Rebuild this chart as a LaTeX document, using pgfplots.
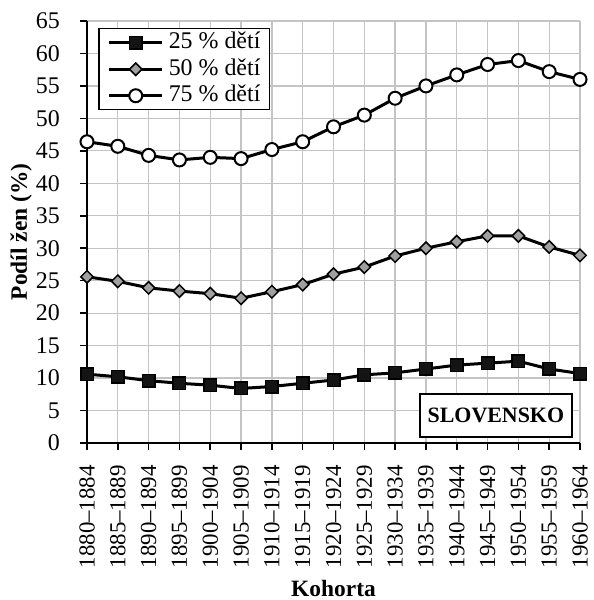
\documentclass[border=0pt]{standalone}
\usepackage{fontspec}
\setmainfont{Liberation Serif}
\usepackage{pgfplots}
\pgfplotsset{compat=1.18}
\definecolor{gridgray}{RGB}{196,196,196}
\definecolor{markgray}{RGB}{160,160,160}
\definecolor{markblack}{RGB}{20,20,20}

\begin{document}
\begin{tikzpicture}
\begin{axis}[
    name=ax,
    scale only axis,
    width=493bp, height=422bp,
    xmin=0, xmax=16, ymin=0, ymax=65,
    axis x line=bottom, axis y line=left,
    axis line style={-, black, line width=1.6bp},
    xtick={0,...,16},
    xticklabels={1880–1884,1885–1889,1890–1894,1895–1899,1900–1904,1905–1909,
      1910–1914,1915–1919,1920–1924,1925–1929,1930–1934,1935–1939,1940–1944,
      1945–1949,1950–1954,1955–1959,1960–1964},
    ytick={0,5,...,65},
    grid=major,
    major grid style={gridgray, line width=1.3bp},
    tick align=outside,
    major tick length=7bp,
    tick style={black, line width=1.6bp},
    /pgf/number format/assume math mode=true,
    xticklabel style={rotate=90, anchor=east, inner sep=0pt,
      font=\fontsize{23}{27}\selectfont},
    yticklabel style={anchor=east, inner sep=0pt,
      font=\fontsize{24}{28}\selectfont},
    xticklabel shift=15bp, yticklabel shift=20bp,
    clip=false,
    xlabel={Kohorta}, ylabel={Podíl žen (\%)},
    label style={font=\bfseries\fontsize{23.5}{28}\selectfont},
    xlabel style={at={(axis description cs:0.5,-0.3626)}, anchor=base},
    ylabel style={at={(axis description cs:-0.1217,0.5)}, anchor=base},
    legend style={at={(0,1)}, anchor=north west, xshift=11bp, yshift=-7bp,
      draw=black, line width=1.5bp, fill=white,
      font=\fontsize{24}{28}\selectfont,
      nodes={inner sep=0pt, text height=17bp, text depth=5bp},
      row sep=4.5bp, inner xsep=9bp, inner ysep=3bp,
      /tikz/every odd column/.append style={column sep=5bp}},
    legend cell align=left,
    legend image code/.code={
      \draw[mark repeat=2, mark phase=2] plot coordinates {(0bp,0bp) (26.5bp,0bp) (53bp,0bp)};
    },
  ]

  % 25 % deti
  \addplot[black, line width=3bp, mark=square*, mark size=6.25bp,
    mark options={fill=markblack, draw=black, line width=1.5bp}] coordinates {
    (0,10.6) (1,10.2) (2,9.6) (3,9.2) (4,8.9) (5,8.4) (6,8.7) (7,9.2) (8,9.7)
    (9,10.5) (10,10.8) (11,11.4) (12,12.0) (13,12.3) (14,12.6) (15,11.4) (16,10.7)
  };
  \addlegendentry{25 \% dětí}

  % 50 % deti
  \addplot[black, line width=3bp, mark=square*, mark size=4.4bp,
    mark options={rotate=45, fill=markgray, draw=black, line width=1.5bp}] coordinates {
    (0,25.6) (1,24.9) (2,23.9) (3,23.4) (4,23.0) (5,22.3) (6,23.3) (7,24.4) (8,26.0)
    (9,27.1) (10,28.8) (11,30.0) (12,31.0) (13,31.9) (14,31.9) (15,30.2) (16,28.9)
  };
  \addlegendentry{50 \% dětí}

  % 75 % deti
  \addplot[black, line width=3bp, mark=*, mark size=6.5bp,
    mark options={fill=white, draw=black, line width=2bp}] coordinates {
    (0,46.4) (1,45.7) (2,44.3) (3,43.6) (4,44.0) (5,43.8) (6,45.2) (7,46.4) (8,48.7)
    (9,50.5) (10,53.1) (11,55.0) (12,56.7) (13,58.3) (14,58.9) (15,57.2) (16,56.0)
  };
  \addlegendentry{75 \% dětí}

  \node[draw=black, line width=1.5bp, fill=white, inner sep=0pt,
    font=\bfseries\fontsize{22}{26}\selectfont,
    minimum width=152bp, minimum height=43bp] at (axis cs:13.27,4.24) {SLOVENSKO};
\end{axis}
\pgfresetboundingbox
\path[use as bounding box] ([xshift=-87bp,yshift=-157bp]ax.south west)
  rectangle ([xshift=13bp,yshift=21bp]ax.north east);
\end{tikzpicture}
\end{document}
